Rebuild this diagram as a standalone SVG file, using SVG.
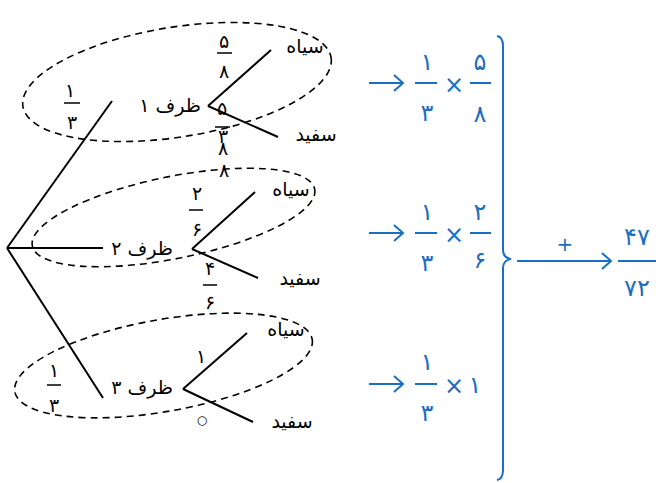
<svg xmlns="http://www.w3.org/2000/svg" width="656" height="483" viewBox="0 0 656 483">
<style>
text{font-family:"DejaVu Sans",sans-serif;fill:#000}
.lbl{font-size:19px;text-anchor:middle}
.d{font-size:19px;text-anchor:middle}
.b{fill:#1a6fc2;font-size:24px;text-anchor:middle}
.ln{stroke:#000;stroke-width:2;fill:none}
.fb{stroke:#000;stroke-width:1.5}
.el{stroke:#000;stroke-width:1.6;fill:none;stroke-dasharray:7 5}
.bl{stroke:#1a6fc2;stroke-width:2;fill:none}
</style>
<defs>
<marker id="ah" markerWidth="12" markerHeight="18" refX="10" refY="9" orient="auto" markerUnits="userSpaceOnUse">
<path d="M1,1 L10,9 L1,17" fill="none" stroke="#1a6fc2" stroke-width="2"/>
</marker>
</defs>
<g id="ellipses">
<ellipse class="el" cx="177" cy="82" rx="156" ry="55" transform="rotate(-9 177 82)"/>
<ellipse class="el" cx="173.5" cy="217.5" rx="144" ry="41" transform="rotate(-11.4 173.5 217.5)"/>
<ellipse class="el" cx="163.5" cy="365.5" rx="151" ry="46" transform="rotate(-10 163.5 365.5)"/>
</g>
<g id="connectors">
<line class="ln" x1="7" y1="248" x2="112" y2="101"/>
<line class="ln" x1="7" y1="248" x2="103" y2="248"/>
<line class="ln" x1="7" y1="248" x2="103" y2="398"/>
<line class="ln" x1="208" y1="106" x2="271" y2="50"/>
<line class="ln" x1="208" y1="106" x2="278" y2="137"/>
<line class="ln" x1="192" y1="249" x2="255" y2="192"/>
<line class="ln" x1="192" y1="249" x2="258" y2="278"/>
<line class="ln" x1="183" y1="389" x2="247" y2="333"/>
<line class="ln" x1="183" y1="389" x2="253" y2="422"/>
</g>
<g id="prob-1">
<text class="d" x="70" y="97">۱</text><line class="fb" x1="64" y1="103" x2="80" y2="103"/><text class="d" x="72" y="129">۳</text>
</g>
<g id="prob-3">
<text class="d" x="54" y="377">۱</text><line class="fb" x1="47" y1="385" x2="61" y2="385"/><text class="d" x="54" y="412">۳</text>
</g>
<g id="node-1">
<text class="lbl" x="170" y="112">ظرف ۱</text>
<text class="d" x="224" y="48">۵</text><line class="fb" x1="217" y1="53" x2="232" y2="53"/><text class="d" x="224" y="78">۸</text>
<text class="d" x="222" y="115">۵</text><line class="fb" x1="215" y1="127" x2="230" y2="127"/><text class="d"><tspan x="223" y="143">۳</tspan><tspan x="223" y="155">۸</tspan></text><text class="d" x="224" y="177">۸</text>
</g>
<g id="node-1-black"><text class="lbl" x="305" y="53">سیاه</text></g>
<g id="node-1-white"><text class="lbl" x="316" y="141">سفید</text></g>
<g id="node-2">
<text class="lbl" x="142" y="255">ظرف ۲</text>
<text class="d" x="197" y="200">۲</text><line class="fb" x1="189" y1="210" x2="203" y2="210"/><text class="d" x="197" y="236">۶</text>
<text class="d" x="210" y="275">۴</text><line class="fb" x1="203" y1="285" x2="217" y2="285"/><text class="d" x="210" y="309">۶</text>
</g>
<g id="node-2-black"><text class="lbl" x="291" y="196">سیاه</text></g>
<g id="node-2-white"><text class="lbl" x="300" y="285">سفید</text></g>
<g id="node-3">
<text class="lbl" x="142" y="394">ظرف ۳</text>
<text class="d" x="201" y="363">۱</text>
<text x="202" y="424" style="font-size:12px;text-anchor:middle">○</text>
</g>
<g id="node-3-black"><text class="lbl" x="286" y="336">سیاه</text></g>
<g id="node-3-white"><text class="lbl" x="292" y="428">سفید</text></g>
<g id="expr-1">
<line class="bl" x1="369" y1="83" x2="403" y2="83" marker-end="url(#ah)"/>
<text class="b" x="427" y="70">۱</text><line class="bl" x1="415" y1="83" x2="437" y2="83"/><text class="b" x="427" y="121">۳</text>
<text class="b" x="454" y="93">×</text>
<text class="b" x="480" y="70">۵</text><line class="bl" x1="470" y1="83" x2="491" y2="83"/><text class="b" x="480" y="122">۸</text>
</g>
<g id="expr-2">
<line class="bl" x1="369" y1="233" x2="403" y2="233" marker-end="url(#ah)"/>
<text class="b" x="427" y="220">۱</text><line class="bl" x1="415" y1="233" x2="437" y2="233"/><text class="b" x="427" y="271">۳</text>
<text class="b" x="454" y="243">×</text>
<text class="b" x="480" y="220">۲</text><line class="bl" x1="470" y1="233" x2="491" y2="233"/><text class="b" x="480" y="268">۶</text>
</g>
<g id="expr-3">
<line class="bl" x1="369" y1="384" x2="403" y2="384" marker-end="url(#ah)"/>
<text class="b" x="427" y="370">۱</text><line class="bl" x1="415" y1="384" x2="437" y2="384"/><text class="b" x="427" y="421">۳</text>
<text class="b" x="454" y="394">×</text>
<text class="b" x="475" y="393">۱</text>
</g>
<g id="brace">
<path class="bl" d="M497,36 Q503,37 503,46 L503,250 Q503,258 511,259 Q503,260 503,268 L503,470 Q503,479 497,480"/>
</g>
<g id="sum">
<line class="bl" x1="517" y1="261" x2="611" y2="261" marker-end="url(#ah)"/>
<text class="b" x="565" y="251" style="font-size:20px">+</text>
</g>
<g id="result">
<text class="b" x="637" y="245">۴۷</text><line class="bl" x1="618" y1="261" x2="656" y2="261"/><text class="b" x="637" y="296">۷۲</text>
</g>
</svg>
